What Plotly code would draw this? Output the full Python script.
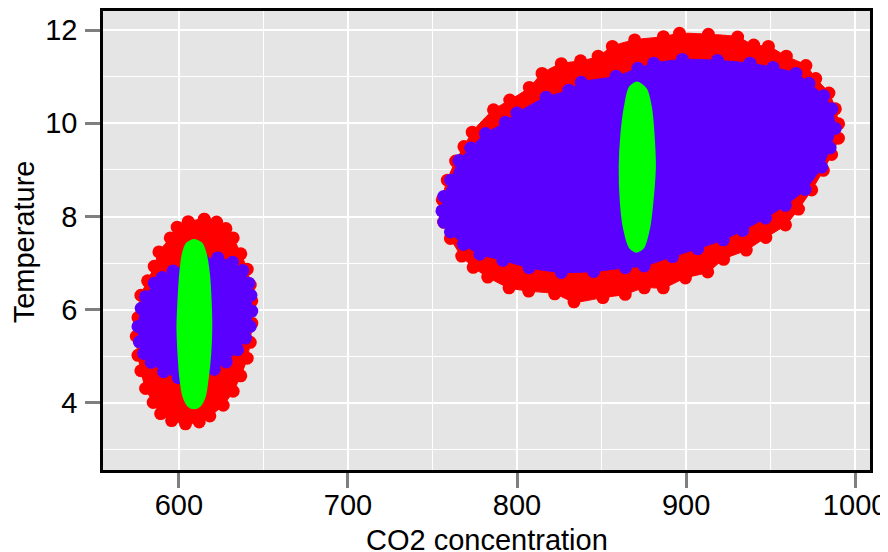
import plotly.graph_objects as go

# ---- data (CO2 concentration, Temperature) ----
# outer (red) cloud, left cluster
red_left_x = [615.0, 605.5, 599.0, 594.9, 588.2, 585.4, 581.5, 577.5, 575.8, 574.8, 575.8, 577.5,
              580.3, 584.8, 589.2, 595.7, 603.9, 612.0, 618.3, 626.2, 632.1, 636.6, 640.4, 642.2,
              643.1, 643.1, 642.2, 640.4, 636.6, 632.1, 627.8, 622.3]
red_left_y = [7.94, 7.89, 7.77, 7.54, 7.24, 6.93, 6.62, 6.31, 5.83, 5.43, 5.02, 4.69,
              4.31, 4.01, 3.77, 3.62, 3.55, 3.59, 3.72, 3.95, 4.25, 4.58, 4.96, 5.30,
              5.71, 6.19, 6.53, 6.87, 7.20, 7.54, 7.74, 7.88]
# middle (blue) cloud, left cluster
blue_left_x = [585.6, 580.3, 577.7, 575.8, 576.6, 579.1, 583.6, 590.9, 599.6, 610.4, 620.9, 628.0,
               634.7, 639.4, 642.2, 643.1, 642.6, 641.4, 637.8, 631.7, 623.0, 614.0, 605.3, 596.5, 590.1]
blue_left_y = [6.57, 6.28, 6.03, 5.64, 5.31, 5.06, 4.87, 4.67, 4.54, 4.52, 4.72, 4.88,
               5.14, 5.39, 5.64, 5.97, 6.31, 6.57, 6.84, 7.02, 7.11, 7.08, 7.00, 6.83, 6.69]
# inner (green) cloud, left cluster
green_left_x = [608.9, 604.5, 602.2, 600.6, 599.6, 599.0, 599.6, 600.6, 602.6, 605.5, 608.9, 612.4,
                615.4, 617.3, 618.7, 619.3, 618.9, 617.9, 616.0, 613.4]
green_left_y = [7.50, 7.42, 7.20, 6.77, 6.20, 5.63, 5.06, 4.56, 4.13, 3.93, 3.88, 3.93,
                4.13, 4.56, 5.06, 5.63, 6.20, 6.77, 7.20, 7.43]

# outer (red) cloud, right cluster
red_right_x = [756.7, 755.8, 758.8, 763.7, 768.6, 773.5, 786.1, 795.7, 807.3, 814.8, 826.2, 837.6,
               848.0, 856.4, 869.6, 886.6, 896.1, 913.2, 930.5, 940.0, 948.7, 959.3, 970.9, 976.7,
               984.5, 988.3, 990.2, 990.1, 986.1, 981.2, 974.3, 966.5, 958.8, 947.2, 935.6, 922.2,
               912.8, 899.6, 886.5, 875.3, 864.0, 850.8, 833.7, 822.3, 806.9, 795.3, 782.7, 774.1,
               767.3, 760.6]
red_right_y = [7.88, 8.36, 8.78, 9.19, 9.50, 9.81, 10.29, 10.50, 10.77, 11.07, 11.28, 11.34,
               11.44, 11.65, 11.79, 11.86, 11.93, 11.91, 11.85, 11.68, 11.65, 11.44, 11.24, 10.96,
               10.65, 10.31, 9.99, 9.68, 9.33, 8.99, 8.57, 8.16, 7.82, 7.55, 7.28, 7.08,
               6.81, 6.68, 6.47, 6.47, 6.33, 6.26, 6.17, 6.34, 6.40, 6.47, 6.70, 6.91,
               7.15, 7.53]
# middle (blue) cloud, right cluster
blue_right_x = [755.7, 756.7, 760.8, 765.7, 772.6, 781.4, 793.1, 799.9, 817.2, 830.6, 838.0, 858.6,
                871.5, 880.9, 897.8, 918.6, 937.8, 951.4, 965.0, 972.7, 981.4, 986.2, 988.2, 985.2,
                980.2, 970.4, 958.7, 947.0, 933.5, 922.0, 906.9, 892.0, 875.2, 864.1, 845.3, 826.2,
                807.1, 791.6, 778.0, 768.3, 760.6, 756.7]
blue_right_y = [8.12, 8.43, 8.78, 9.20, 9.47, 9.78, 10.02, 10.22, 10.56, 10.71, 10.88, 11.01,
                11.18, 11.29, 11.37, 11.35, 11.29, 11.20, 11.07, 10.86, 10.59, 10.31, 9.89, 9.47,
                9.06, 8.58, 8.24, 7.97, 7.70, 7.50, 7.31, 7.14, 6.94, 6.90, 6.82, 6.80,
                6.90, 7.06, 7.19, 7.40, 7.67, 7.88]
# inner (green) cloud, right cluster
green_right_x = [870.9, 866.5, 863.6, 861.6, 860.6, 861.2, 863.0, 866.5, 870.5, 874.8, 878.4, 880.3,
                 881.7, 880.9, 879.4, 876.4]
green_right_y = [10.88, 10.77, 10.34, 9.77, 9.06, 8.34, 7.77, 7.34, 7.24, 7.33, 7.77, 8.34,
                 9.06, 9.77, 10.34, 10.74]

x_ticks = [600, 700, 800, 900, 1000]
y_ticks = [4, 6, 8, 10, 12]
x_title = "CO2 concentration"
y_title = "Temperature"

RED = "#FF0000"
BLUE = "#5A00FF"
GREEN = "#00FF00"

fig = go.Figure()


def cloud(xs, ys, color, bumpy=True):
    fig.add_trace(go.Scatter(
        x=xs + xs[:1], y=ys + ys[:1],
        mode="lines+markers" if bumpy else "lines",
        fill="toself", fillcolor=color,
        line=dict(color=color, width=1 if bumpy else 1.5, shape="spline", smoothing=0.8),
        marker=dict(size=13, color=color, line=dict(width=0)),
        hoverinfo="skip", showlegend=False,
    ))


cloud(red_left_x, red_left_y, RED)
cloud(red_right_x, red_right_y, RED)
cloud(blue_left_x, blue_left_y, BLUE)
cloud(blue_right_x, blue_right_y, BLUE)
cloud(green_left_x, green_left_y, GREEN, bumpy=False)
cloud(green_right_x, green_right_y, GREEN, bumpy=False)

FONT = "Liberation Sans, Arial, Helvetica, sans-serif"
FS = 29

# The page body has an 8px margin, so the figure is 8px smaller than the window.
fig.update_layout(
    width=880, height=544,
    margin=dict(l=95, r=17.5, t=2.5, b=82),
    paper_bgcolor="white",
    plot_bgcolor="#E5E5E5",
    font=dict(family=FONT, size=FS, color="black"),
    xaxis=dict(
        range=[555.1, 1008.8], automargin=False,
        tickvals=x_ticks, ticktext=[str(v) for v in x_ticks],
        ticks="outside", ticklen=15, tickwidth=2.5, tickcolor="#7F7F7F",
        ticklabelstandoff=-8,
        showgrid=True, gridcolor="white", gridwidth=2.4,
        minor=dict(dtick=50, tick0=550, showgrid=True, gridcolor="white", gridwidth=1.1, ticks=""),
        showline=True, linecolor="black", linewidth=2.5, mirror=True,
        zeroline=False,
        tickfont=dict(size=FS, color="black"),
    ),
    yaxis=dict(
        range=[2.56, 12.41], automargin=False,
        tickvals=y_ticks, ticktext=[str(v) for v in y_ticks],
        ticks="outside", ticklen=15, tickwidth=2.5, tickcolor="#7F7F7F",
        ticklabelstandoff=2,
        showgrid=True, gridcolor="white", gridwidth=2.4,
        minor=dict(dtick=1, tick0=3, showgrid=True, gridcolor="white", gridwidth=1.1, ticks=""),
        showline=True, linecolor="black", linewidth=2.5, mirror=True,
        zeroline=False,
        tickfont=dict(size=FS, color="black"),
    ),
    annotations=[
        dict(text=x_title, xref="paper", yref="paper", x=0.5, y=-0.1523,
             xanchor="center", yanchor="middle", showarrow=False,
             font=dict(size=FS, color="black", family=FONT)),
        dict(text=y_title, xref="paper", yref="paper", x=-0.1029, y=0.4962,
             xanchor="center", yanchor="middle", showarrow=False, textangle=-90,
             font=dict(size=FS, color="black", family=FONT)),
    ],
)

fig.write_html("out.html")
